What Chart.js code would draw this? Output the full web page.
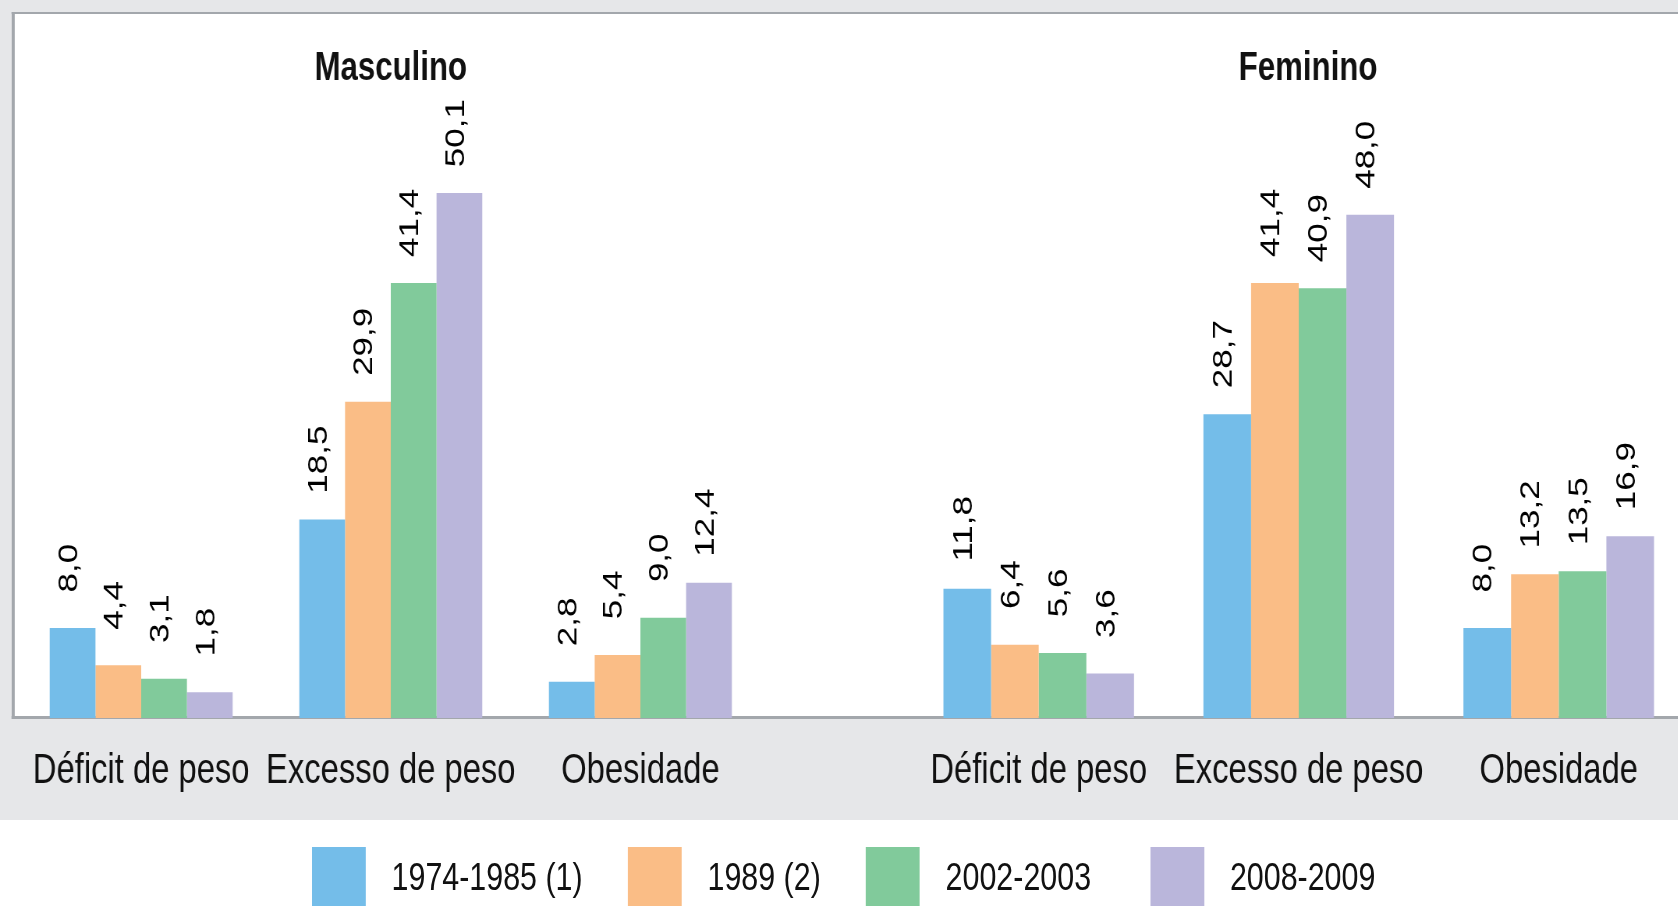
<!DOCTYPE html>
<html>
<head>
<meta charset="utf-8">
<script src="https://cdn.jsdelivr.net/npm/chart.js@4.4.1/dist/chart.umd.min.js"></script>
<style>
  html, body { margin: 0; padding: 0; overflow: hidden; background: #e6e7e9; }
  body { width: 1678px; height: 906px; position: relative; }
  /* the source artwork uses a condensed face, so the whole drawing is squeezed horizontally */
  #wrap { position: absolute; left: 0; top: 0; width: 2200px; height: 906px;
          transform: scaleX(0.78); transform-origin: 0 0;
          font-family: "Liberation Sans", Arial, sans-serif; }
  #plotBox { position: absolute; left: 15px; top: 12px; width: 2300px; height: 702px; background: #fff;
             border-left: 4px solid #a3a7ac; border-top: 2px solid #a3a7ac; border-bottom: 3px solid #a3a7ac; }
  #legendBand { position: absolute; left: 0; top: 820px; width: 2300px; height: 86px; background: #fff; }
  canvas { position: absolute; top: 15px; }
  #cM { left: 21px; }
  #cF { left: 1165px; }
  #legend { position: absolute; left: 400px; top: 847px; display: flex; align-items: center; height: 59px; }
  .item { display: flex; align-items: center; margin-right: 58px; }
  .item:nth-child(3) { margin-right: 76px; }
  .box { width: 69px; height: 59px; margin-right: 33px; }
  .txt { font-size: 39px; color: #111; white-space: nowrap; }
</style>
</head>
<body>
<div id="wrap">
  <div id="plotBox"></div>
  <div id="legendBand"></div>
  <canvas id="cM" width="960" height="805"></canvas>
  <canvas id="cF" width="1024" height="805"></canvas>
  <div id="legend"></div>
</div>
<script>
const categories = ['Déficit de peso', 'Excesso de peso', 'Obesidade']
const periods = ['1974-1985 (1)', '1989 (2)', '2002-2003', '2008-2009']
const colors = ['#74bde9', '#fabd86', '#81ca9b', '#bab6db']

// Masculino, one array per period: déficit, excesso, obesidade
const masc1974 = [8.0, 18.5, 2.8]
const masc1989 = [4.4, 29.9, 5.4]
const masc2002 = [3.1, 41.4, 9.0]
const masc2008 = [1.8, 50.1, 12.4]

// Feminino
const fem1974 = [11.8, 28.7, 8.0]
const fem1989 = [6.4, 41.4, 13.2]
const fem2002 = [5.6, 40.9, 13.5]
const fem2008 = [3.6, 48.0, 16.9]

const yMin = -0.7
const yMax = 59.3
const fontFamily = '"Liberation Sans", Arial, sans-serif'

const fmt = (v) => v.toFixed(1).replace('.', ',')

const valueLabels = {
  id: 'valueLabels',
  afterDatasetsDraw(chart) {
    const ctx = chart.ctx
    ctx.save()
    ctx.font = '35px ' + fontFamily
    ctx.fillStyle = '#000'
    ctx.textAlign = 'center'
    ctx.textBaseline = 'middle'
    chart.data.datasets.forEach((ds, i) => {
      chart.getDatasetMeta(i).data.forEach((bar, j) => {
        ctx.save()
        ctx.translate(bar.x - 4, bar.y - 60)
        ctx.rotate(-Math.PI / 2)
        ctx.fillText(fmt(ds.data[j]), 0, 0)
        ctx.restore()
      })
    })
    ctx.restore()
  }
}

const makeChart = (id, title, series, rightPad) => {
  return new Chart(document.getElementById(id), {
    type: 'bar',
    data: {
      labels: categories,
      datasets: series.map((d, i) => ({
        label: periods[i],
        data: d,
        backgroundColor: colors[i],
        base: yMin,
        barPercentage: 1,
        categoryPercentage: 0.733
      }))
    },
    options: {
      responsive: false,
      animation: false,
      devicePixelRatio: 1,
      layout: { padding: 0 },
      scales: {
        x: {
          offset: true,
          grid: { display: false, drawTicks: false },
          border: { display: false },
          ticks: {
            color: '#111',
            font: { size: 42, family: fontFamily },
            padding: 28,
            maxRotation: 0,
            autoSkip: false
          },
          // fixed band height, and no extra side room for the wide labels
          afterFit: (s) => {
            s.height = 102
            s.paddingLeft = 0
            s.paddingRight = 0
          }
        },
        y: {
          display: rightPad > 0,
          position: 'right',
          min: yMin,
          max: yMax,
          ticks: { display: false },
          grid: { display: false },
          border: { display: false },
          afterFit: (s) => { s.width = rightPad }
        }
      },
      plugins: {
        legend: { display: false },
        tooltip: { enabled: false },
        title: {
          display: true,
          text: title,
          color: '#111',
          font: { size: 40, weight: 'bold', family: fontFamily },
          padding: { top: 30, bottom: 5 }
        }
      }
    },
    plugins: [valueLabels]
  })
}

const chartM = makeChart('cM', 'Masculino', [masc1974, masc1989, masc2002, masc2008], 0)
const chartF = makeChart('cF', 'Feminino', [fem1974, fem1989, fem2002, fem2008], 24)

// legend built from the chart's own legend items
const legendEl = document.getElementById('legend')
Chart.defaults.plugins.legend.labels.generateLabels(chartM).forEach((item) => {
  const el = document.createElement('div')
  el.className = 'item'
  el.innerHTML = `<div class="box" style="background:${item.fillStyle}"></div><span class="txt">${item.text}</span>`
  legendEl.appendChild(el)
})
</script>
</body>
</html>
